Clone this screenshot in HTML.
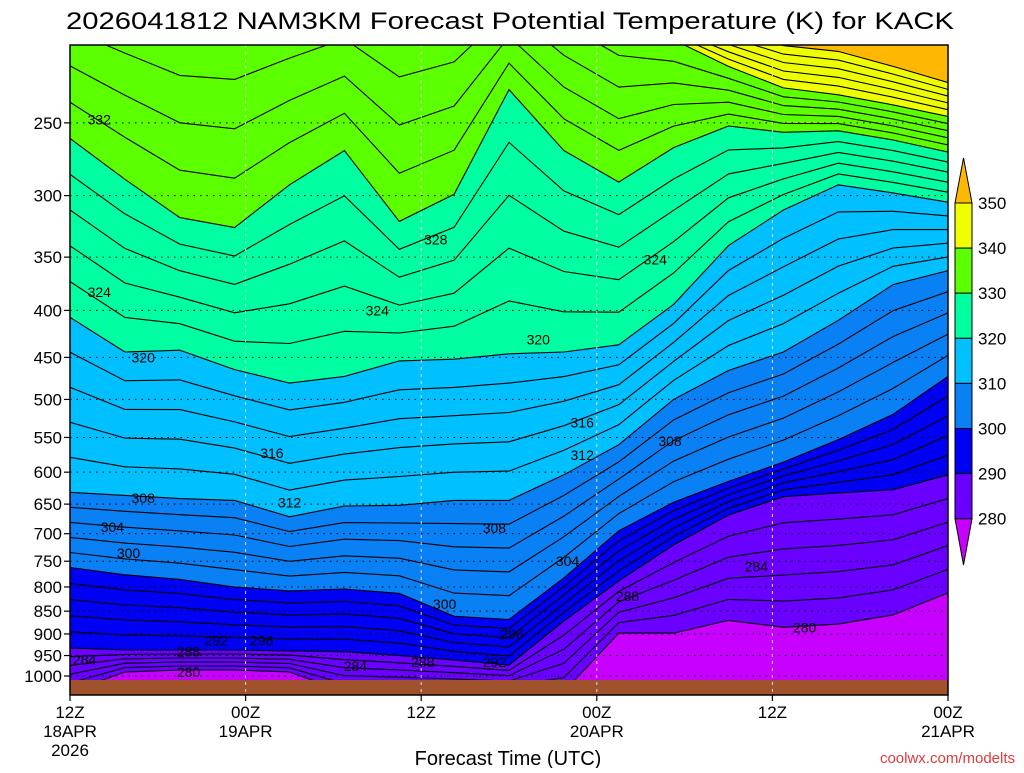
<!DOCTYPE html>
<html><head><meta charset="utf-8">
<style>
html,body{margin:0;padding:0;background:#fff;}
svg text{font-family:"Liberation Sans",sans-serif;}
</style></head>
<body>
<svg id="chart" width="1024" height="768" viewBox="0 0 1024 768" xmlns="http://www.w3.org/2000/svg">
<defs><clipPath id="plotclip"><rect x="70" y="45" width="878" height="650"/></clipPath></defs>
<rect width="1024" height="768" fill="#fff"/>
<g id="fills" clip-path="url(#plotclip)"></g>
<g id="lines" clip-path="url(#plotclip)"></g>
<rect x="70" y="680" width="878" height="15" fill="#a0522d"/>
<g id="grid"></g>
<g id="clabels" font-size="14" fill="#000" text-anchor="middle"></g>
<rect x="70" y="45" width="878" height="650" fill="none" stroke="#000" stroke-width="1.5"/>
<g id="yaxis"></g>
<g id="xaxis"></g>
<g id="cbar"></g>
<text x="510" y="29" font-size="24" text-anchor="middle" textLength="888" lengthAdjust="spacingAndGlyphs">2026041812 NAM3KM Forecast Potential Temperature (K) for KACK</text>
<text x="508" y="765" font-size="20" text-anchor="middle">Forecast Time (UTC)</text>
<text x="1015" y="763" font-size="15" text-anchor="end" fill="#e03a3a">coolwx.com/modelts</text>
</svg>
<script>
// forecast hours
const hours = [0,3.75,7.5,11.25,15,18.75,22.5,26.25,30,33.75,37.5,41.25,45,48.75,52.5,56.25,60];
// isentrope levels (K) of color-band boundaries
const levels = [280,290,300,310,320,330,340,350];
// pressure (hPa) of each isentrope at each hour
const p280 = [1040,990,985,985,990,1040,1040,1040,1040,1040,898,898,870,885,878,858,812];
const p290 = [932,937,937,937,939,941,950,961,973,871,788,720,668,638,632,627,604];
const p300 = [762,776,785,800,808,804,813,861,868,782,695,647,614,585,553,519,472];
const p310 = [631,636,641,644,671,653,652,644,644,604,560,500,465,444,410,375,362];
const p320 = [407,444,442,464,480,472,454,452,446,444,436,394,340,311,292,298,305];
const p330 = [260,288,317,325,292,268,320,299,230,268,290,266,252,256,255,261,269];
const p340 = [165,170,175,175,172,168,175,172,165,180,195,203,217,229,233,239,246];
const p350 = [140,140,140,140,140,140,140,140,140,150,170,190,198,206,209,217,226];
const series = [p280,p290,p300,p310,p320,p330,p340,p350];
const bandColors = ['#c800ff','#6a00ff','#0000f5','#0a80f5','#00c0ff','#00ffa0','#5cff00','#f0ff00','#ffb800'];
const yTicks = [250,300,350,400,450,500,550,600,650,700,750,800,850,900,950,1000];
const xTickHours = [0,12,24,36,48,60];
const xTickLabels = [['12Z','18APR','2026'],['00Z','19APR'],['12Z'],['00Z','20APR'],['12Z'],['00Z','21APR']];
const cbarLabels = [350,340,330,320,310,300,290,280];
const contourLabels = [
 ['332',2,248],['324',2,382],['320',5,450],['316',13.8,572],['312',15,647],['308',5,640],['304',2.9,688],['300',4,735],
 ['328',25,335],['324',21,400],['320',32,430],['316',35,530],['312',35,575],['308',41,555],['308',29,690],['304',34,750],
 ['300',25.6,835],['296',30.2,900],['296',13.1,915],['292',10,915],['292',29,965],['288',8.1,940],['288',24.1,965],['284',1,960],
 ['284',19.5,975],['280',8.1,990],['324',40,352],['284',46.9,760],['288',38.1,818],['280',50.2,885]
];
const X0=70, X1=948, Y1000=676, K=399;
function xs(h){return X0 + h*(X1-X0)/60;}
function ys(p){return Y1000 - K*Math.log(1000/p);}
const NS='http://www.w3.org/2000/svg';
function mk(tag,attrs,parent){const e=document.createElementNS(NS,tag);for(const k in attrs)e.setAttribute(k,attrs[k]);parent.appendChild(e);return e;}
const fills=document.getElementById('fills');
const bg=mk('rect',{x:70,y:45,width:878,height:650,fill:bandColors[8]},fills);


for(let k=levels.length-1;k>=0;k--){
  const s=series[k];
  let d='M'+xs(hours[0])+','+ys(s[0]);
  for(let i=1;i<hours.length;i++) d+=' L'+xs(hours[i]).toFixed(1)+','+ys(s[i]).toFixed(1);
  d+=' L'+X1+',720 L'+X0+',720 Z';
  const el=mk('path',{d:d,fill:bandColors[k]},fills);
  
  
}
const lines=document.getElementById('lines');
for(let k=0;k<levels.length-1;k++){
  for(let sub=0;sub<5;sub++){
    const th=levels[k]+sub*2;
    let d='';
    for(let i=0;i<hours.length;i++){
      const a=Math.log(series[k][i]), b=Math.log(series[k+1][i]);
      const p=Math.exp(a+(b-a)*sub/5);
      d+=(i?' L':'M')+xs(hours[i]).toFixed(1)+','+ys(p).toFixed(1);
    }
    const el=mk('path',{d:d,fill:'none',stroke:'#000','stroke-width':1.1},lines);
    
    
  }
}
{
  let d='';
  for(let i=0;i<hours.length;i++) d+=(i?' L':'M')+xs(hours[i]).toFixed(1)+','+ys(p350[i]).toFixed(1);
  const el=mk('path',{d:d,fill:'none',stroke:'#000','stroke-width':1.1},lines);
  
  
}
const grid=document.getElementById('grid');
yTicks.forEach(p=>{
  const el=mk('line',{x1:X0,x2:X1,y1:ys(p),y2:ys(p),stroke:'#000','stroke-width':1,'stroke-dasharray':'1.5,5'},grid);
  
  
});
xTickHours.slice(1,-1).forEach(h=>{
  const el=mk('line',{x1:xs(h),x2:xs(h),y1:45,y2:695,stroke:'#ddd','stroke-width':1,'stroke-dasharray':'3,4'},grid);
  
  
});
const cl=document.getElementById('clabels');
contourLabels.forEach(c=>{
  const t=mk('text',{x:xs(c[1]).toFixed(1),y:(ys(c[2])+5).toFixed(1)},cl);
  t.textContent=c[0];
  
  
});
const ya=document.getElementById('yaxis');
yTicks.forEach(p=>{
  const y=ys(p);
  const tk=mk('line',{x1:64,x2:70,y1:y,y2:y,stroke:'#000','stroke-width':1.2},ya);
  
  
  const t=mk('text',{x:62,y:y+6,'font-size':17,'text-anchor':'end'},ya);
  t.textContent=p;
  
  
});
const xa=document.getElementById('xaxis');
xTickHours.forEach((h,i)=>{
  const x=xs(h);
  const tk=mk('line',{x1:x,x2:x,y1:695,y2:701,stroke:'#000','stroke-width':1.2},xa);
  
  
  xTickLabels[i].forEach((s,j)=>{
    const t=mk('text',{x:x,y:718+j*19,'font-size':17,'text-anchor':'middle'},xa);
    t.textContent=s;
    
    
  });
});
const cb=document.getElementById('cbar');
const cbx=955, cbw=17, cbTop=203, cbStep=45.1;
{
  const tri=mk('polygon',{points:`${cbx},${cbTop} ${cbx+cbw},${cbTop} ${cbx+cbw/2},158`,fill:bandColors[8],stroke:'#000','stroke-width':1},cb);
  
  
}
for(let k=7;k>=1;k--){
  const y=cbTop+(7-k)*cbStep;
  const r=mk('rect',{x:cbx,y:y,width:cbw,height:cbStep,fill:bandColors[k],stroke:'#000','stroke-width':1},cb);
  
  
}
{
  const yb=cbTop+7*cbStep;
  const tri=mk('polygon',{points:`${cbx},${yb} ${cbx+cbw},${yb} ${cbx+cbw/2},565`,fill:bandColors[0],stroke:'#000','stroke-width':1},cb);
  
  
}
cbarLabels.forEach((v,i)=>{
  const t=mk('text',{x:978,y:cbTop+i*cbStep+6,'font-size':17},cb);
  t.textContent=v;
  
  
});
</script>
</body></html>
